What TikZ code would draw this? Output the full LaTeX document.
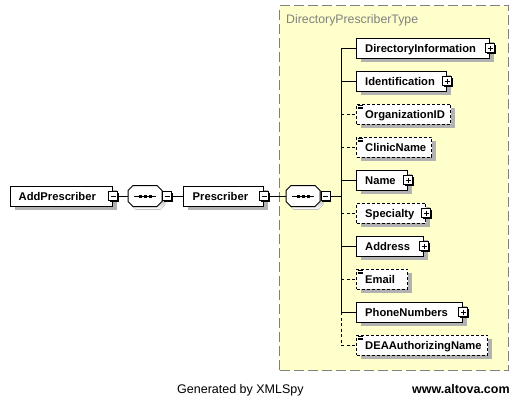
\documentclass[tikz,border=0pt]{standalone}
\usepackage{fontspec}
\setmainfont{Liberation Sans}
\usetikzlibrary{shadows}
\definecolor{paleyellow}{RGB}{255,255,204}
\definecolor{framegray}{RGB}{128,128,128}
\definecolor{shade}{RGB}{178,178,178}
\begin{document}
\begin{tikzpicture}[x=1pt,y=-1pt,
  conn/.style={line width=1pt},
  optline/.style={dash pattern=on 3pt off 2.5pt},
  elem/.style={draw=black, line width=1pt, fill=white, minimum height=20pt, inner sep=0pt, anchor=west,
    drop shadow={shadow xshift=4pt, shadow yshift=-4pt, fill=shade, opacity=1}},
  optelem/.style={elem, dash pattern=on 3pt off 2pt},
  lbl/.style={anchor=base west, inner sep=0pt, font=\fontsize{11.2}{13}\selectfont\bfseries},
  pmbase/.style={draw=black, fill=white, line width=1pt, minimum size=9pt, inner sep=0pt,
    drop shadow={shadow xshift=1pt, shadow yshift=-1pt, fill=black, opacity=1}},
  minusbox/.style={pmbase, path picture={
    \draw[line width=1pt] ([xshift=2pt]path picture bounding box.west) -- ([xshift=-2pt]path picture bounding box.east);}},
  plusbox/.style={pmbase, path picture={
    \draw[line width=1pt] ([xshift=2pt]path picture bounding box.west) -- ([xshift=-2pt]path picture bounding box.east);
    \draw[line width=1pt] ([yshift=-2pt]path picture bounding box.north) -- ([yshift=2pt]path picture bounding box.south);}},
  seqpic/.pic={
    \fill[shade, shift={(3,3)}] (-12,-10.5) -- (12,-10.5) -- (17,-5.5) -- (17,5.5) -- (12,10.5) -- (-12,10.5) -- (-17,5.5) -- (-17,-5.5) -- cycle;
    \draw[line width=1pt, fill=white] (-12,-10.5) -- (12,-10.5) -- (17,-5.5) -- (17,5.5) -- (12,10.5) -- (-12,10.5) -- (-17,5.5) -- (-17,-5.5) -- cycle;
    \draw[line width=1pt] (-11,0) -- (11,0);
    \fill (-6.5,-1.5) rectangle (-3.5,1.5);
    \fill (-1.5,-1.5) rectangle (1.5,1.5);
    \fill (3.5,-1.5) rectangle (6.5,1.5);
    \coordinate (-w) at (-17,0);
    \coordinate (-e) at (17,0);
  },
  eqicon/.pic={
    \draw[line width=0.8pt] (1.5,1.8) -- (6.5,1.8) (1.5,3.4) -- (6.5,3.4) (1.5,5) -- (6.5,5);
  }
]
\fill[white] (0,0) rectangle (518,402);
\useasboundingbox (0,0) rectangle (518,402);

% complex type container
\node[draw=framegray, line width=1pt, fill=paleyellow, dash pattern=on 10pt off 4pt,
      minimum width=228.5pt, minimum height=365pt, inner sep=0pt, anchor=north west] (ct) at (279,5) {};
\node[anchor=base west, inner sep=0pt, text=framegray, font=\fontsize{12.3}{14}\selectfont] (ctt) at (286,23) {DirectoryPrescriberType};

% left chain
\node[elem, minimum width=102pt] (add) at (10,196) {};
\node[lbl] (addt) at ([shift={(8.5,4)}]add.west) {AddPrescriber};
\node[minusbox] (addm) at (add.east) {};

\pic (s1) at (145,196) {seqpic};
\node[minusbox] (s1m) at (167,196) {};

\node[elem, minimum width=80pt] (pr) at (183,196) {};
\node[lbl] (prt) at ([shift={(9.5,4)}]pr.west) {Prescriber};
\node[minusbox] (prm) at (pr.east) {};

\pic (s2) at (303,196) {seqpic};
\node[minusbox] (s2m) at (325.5,196) {};

% children
\node[elem, minimum width=133pt] (di) at (356,48) {};
\node[lbl] (dit) at ([shift={(9,4)}]di.west) {DirectoryInformation};
\node[plusbox] (dip) at (di.east) {};

\node[elem, minimum width=90pt] (id) at (356,81) {};
\node[lbl] (idt) at ([shift={(9,4)}]id.west) {Identification};
\node[plusbox] (idp) at (id.east) {};

\node[optelem, minimum width=94pt] (oi) at (356,114) {};
\node[lbl] (oit) at ([shift={(9,4)}]oi.west) {OrganizationID};
\pic at (oi.north west) {eqicon};

\node[optelem, minimum width=75pt] (cn) at (356,147) {};
\node[lbl] (cnt) at ([shift={(9,4)}]cn.west) {ClinicName};
\pic at (cn.north west) {eqicon};

\node[elem, minimum width=51pt] (nm) at (356,180) {};
\node[lbl] (nmt) at ([shift={(9,4)}]nm.west) {Name};
\node[plusbox] (nmp) at (nm.east) {};

\node[optelem, minimum width=69pt] (sp) at (356,213) {};
\node[lbl] (spt) at ([shift={(9,4)}]sp.west) {Specialty};
\node[plusbox] (spp) at (sp.east) {};

\node[elem, minimum width=67pt] (ad) at (356,246) {};
\node[lbl] (adt) at ([shift={(9,4)}]ad.west) {Address};
\node[plusbox] (adp) at (ad.east) {};

\node[optelem, minimum width=51pt] (em) at (356,279) {};
\node[lbl] (emt) at ([shift={(9,4)}]em.west) {Email};
\pic at (em.north west) {eqicon};

\node[elem, minimum width=106pt] (ph) at (356,312) {};
\node[lbl] (pht) at ([shift={(9,4)}]ph.west) {PhoneNumbers};
\node[plusbox] (php) at (ph.east) {};

\node[optelem, minimum width=131pt] (dea) at (356,345) {};
\node[lbl] (deat) at ([shift={(9,4)}]dea.west) {DEAAuthorizingName};
\pic at (dea.north west) {eqicon};

% bus
\coordinate (btop) at (341,48);
\coordinate (bmid) at (341,196);
\coordinate (bph) at (341,312);
\coordinate (bbot) at (341,345);

% connectors
\draw[conn] (addm.east) -- (s1-w);
\draw[conn] (s1m.east) -- (pr.west);
\draw[conn] (prm.east) -- (s2-w);
\draw[conn] (s2m.east) -- (bmid);
\draw[conn] (btop) -- (bph);
\draw[conn, optline] (bph) -- (bbot);
\draw[conn] (btop) -- (di.west);
\draw[conn] (id.west -| btop) -- (id.west);
\draw[conn, optline] (oi.west -| btop) -- (oi.west);
\draw[conn, optline] (cn.west -| btop) -- (cn.west);
\draw[conn] (nm.west -| btop) -- (nm.west);
\draw[conn, optline] (sp.west -| btop) -- (sp.west);
\draw[conn] (ad.west -| btop) -- (ad.west);
\draw[conn, optline] (em.west -| btop) -- (em.west);
\draw[conn] (bph) -- (ph.west);
\draw[conn, optline] (bbot) -- (dea.west);

% footer
\node[anchor=base west, inner sep=0pt, font=\fontsize{12.5}{14}\selectfont] (gen) at (177,393) {Generated by XMLSpy};
\node[anchor=base west, inner sep=0pt, font=\fontsize{12.5}{14}\selectfont\bfseries] (alt) at (412,393) {www.altova.com};
\end{tikzpicture}
\end{document}
